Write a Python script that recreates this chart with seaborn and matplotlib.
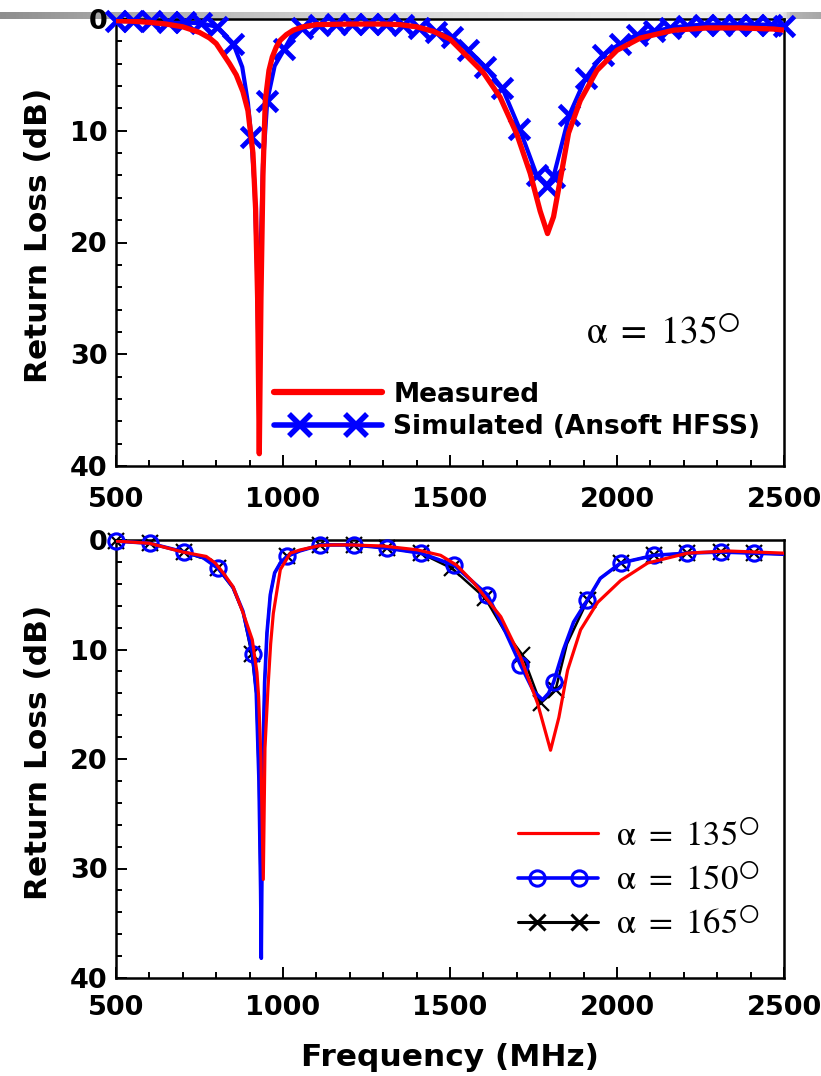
import numpy as np
import matplotlib
matplotlib.use('Agg')
import matplotlib.pyplot as plt
import seaborn as sns
from matplotlib.lines import Line2D
from matplotlib.legend_handler import HandlerLine2D, HandlerTuple
from matplotlib.ticker import MultipleLocator
from matplotlib.colors import LinearSegmentedColormap

# ---- data: top panel (alpha = 135 deg) ----
meas_f = [500, 550, 600, 650, 700, 750, 780, 800, 820, 840, 860, 880, 895, 910, 918, 924, 929,
          934, 940, 947, 958, 968, 980, 992, 1010, 1031, 1060, 1100, 1200, 1300, 1350, 1400,
          1450, 1500, 1550, 1600, 1650, 1700, 1740, 1770, 1792, 1810, 1830, 1855, 1890, 1940,
          2000, 2070, 2170, 2270, 2370, 2470, 2500]
meas_db = [0.15, 0.2, 0.3, 0.45, 0.7, 1.2, 1.7, 2.2, 3.1, 4.0, 5.0, 6.5, 8.2, 12, 17, 25, 38.9,
           25, 14, 7.3, 4.6, 3.4, 2.5, 1.9, 1.4, 1.0, 0.7, 0.5, 0.45, 0.45, 0.5, 0.7,
           1.1, 1.8, 3.3, 4.8, 7.0, 10.3, 13.8, 17.2, 19.2, 17.7, 14.4, 10.2, 7.3, 4.6,
           2.8, 1.7, 1.0, 0.8, 0.8, 0.9, 1.0]

# simulated: points carrying a marker
sim_f = [500, 552, 604, 656, 706, 755, 803, 851, 905, 953, 1004, 1058, 1108, 1158, 1208, 1258,
         1308, 1358, 1408, 1457, 1507, 1555, 1606, 1657, 1708, 1760, 1789, 1810, 1857, 1906,
         1958, 2010, 2060, 2110, 2160, 2210, 2260, 2310, 2360, 2410, 2460, 2500]
sim_db = [0.2, 0.2, 0.2, 0.25, 0.3, 0.4, 0.7, 2.2, 10.6, 7.3, 2.7, 0.8, 0.5, 0.45, 0.45, 0.45,
          0.45, 0.5, 0.8, 1.2, 1.6, 2.8, 4.3, 6.2, 9.8, 14.0, 14.9, 14.1, 8.6, 5.3,
          3.2, 2.2, 1.4, 1.1, 0.8, 0.6, 0.5, 0.5, 0.5, 0.5, 0.5, 0.6]
# simulated: extra sweep points without a marker
sim_extra_f = [878, 895, 915, 922, 927, 932, 940, 975, 1030]
sim_extra_db = [4.3, 7.5, 15, 22, 31, 22, 13, 4.2, 1.3]

# ---- data: bottom panel ----
a135_f = [500, 600, 700, 770, 797, 821, 851, 881, 908, 922, 927, 934, 941, 946, 955, 963, 971,
          992, 1022, 1052, 1112, 1151, 1200, 1301, 1402, 1472, 1520, 1571, 1652, 1711, 1762,
          1801, 1826, 1852, 1891, 1942, 2011, 2092, 2211, 2331, 2500]
a135_db = [0.1, 0.3, 1.1, 1.5, 2.1, 3.0, 4.3, 6.7, 9.1, 12.1, 14.3, 20, 31, 19, 13.5, 9.5, 6.7,
           2.7, 1.2, 0.9, 0.5, 0.45, 0.45, 0.55, 0.9, 1.4, 2.3, 3.9, 7.0, 10.7, 14.9,
           19.2, 16.2, 11.9, 8.2, 5.7, 3.7, 2.1, 1.2, 1.0, 1.2]

a150_f = [500, 601, 705, 760, 806, 850, 880, 909, 920, 928, 933, 935, 937, 940, 945, 952, 962,
          975, 992, 1012, 1050, 1112, 1212, 1312, 1412, 1512, 1612, 1660, 1711, 1750, 1777,
          1795, 1810, 1840, 1870, 1911, 1950, 2011, 2111, 2211, 2311, 2410, 2500]
a150_db = [0.1, 0.3, 1.1, 1.6, 2.6, 4.3, 6.5, 10.4, 14, 22, 32, 38.2, 30, 20, 13, 8.5, 5,
           3, 2.1, 1.5, 1.0, 0.45, 0.45, 0.75, 1.2, 2.3, 5.0, 8.0, 11.4, 13.8, 14.6,
           14.0, 13.0, 10, 7.5, 5.5, 3.5, 2.1, 1.4, 1.2, 1.1, 1.2, 1.3]
a150_mark_f = [500, 601, 705, 806, 909, 1012, 1112, 1212, 1312, 1412, 1512, 1612, 1711, 1810,
               1911, 2011, 2111, 2211, 2311, 2410]
a150_mark_db = [0.1, 0.3, 1.1, 2.6, 10.4, 1.5, 0.45, 0.45, 0.75, 1.2, 2.3, 5.0, 11.4, 13.0,
                5.5, 2.1, 1.4, 1.2, 1.1, 1.2]

a165_f = [500, 601, 705, 752, 785, 806, 850, 880, 906, 920, 928, 933, 935, 937, 940, 945, 952,
          962, 975, 992, 1012, 1050, 1112, 1212, 1312, 1412, 1506, 1605, 1661, 1717, 1771,
          1816, 1850, 1912, 1950, 2011, 2111, 2211, 2311, 2410, 2500]
a165_db = [0.1, 0.3, 1.1, 1.6, 1.8, 2.6, 4.4, 6.6, 10.4, 14, 22, 32, 37, 30, 20, 13, 8.5,
           5, 3, 2.1, 1.5, 1.0, 0.45, 0.45, 0.75, 1.2, 2.6, 5.3, 8.2, 10.5, 14.9,
           13.7, 9.5, 5.5, 3.5, 2.1, 1.4, 1.2, 1.1, 1.2, 1.3]
a165_mark_f = [500, 601, 705, 806, 906, 1012, 1112, 1212, 1312, 1412, 1506, 1605, 1717, 1771,
               1816, 1912, 2011, 2111, 2211, 2311, 2410]
a165_mark_db = [0.1, 0.3, 1.1, 2.6, 10.4, 1.5, 0.45, 0.45, 0.75, 1.2, 2.6, 5.3, 10.5, 14.9,
                13.7, 5.5, 2.1, 1.4, 1.2, 1.1, 1.2]

x_ticks = [500, 1000, 1500, 2000, 2500]
y_ticks = [0, 10, 20, 30, 40]
alpha_labels = [r'$\mathrm{\alpha}\ =\ 135^{\bigcirc}$', r'$\mathrm{\alpha}\ =\ 150^{\bigcirc}$',
                r'$\mathrm{\alpha}\ =\ 165^{\bigcirc}$']

sns.set_style('ticks')
plt.rcParams['font.family'] = ['DejaVu Sans']
plt.rcParams['mathtext.fontset'] = 'stix'
for key in ['text.color', 'axes.labelcolor', 'xtick.color', 'ytick.color', 'axes.edgecolor']:
    plt.rcParams[key] = 'black'

W, H = 821, 1076
fig = plt.figure(figsize=(W / 100, H / 100), dpi=100)

# grey header strip of the original slide
bar = fig.add_axes([0, 1 - 19 / H, 1, 7 / H], zorder=0)
bar_cmap = LinearSegmentedColormap.from_list(
    'bar', [(0.0, '#8e8e8e'), (0.12, '#a4a4a4'), (0.37, '#cdcdcd'), (0.55, '#dedede'),
            (0.85, '#ececec'), (0.955, '#e8e8e8'), (0.965, '#b4b4b4'), (1.0, '#a8a8a8')])
bar.imshow(np.linspace(0, 1, 512)[None, :], cmap=bar_cmap, aspect='auto', extent=[0, 1, 0, 1])
bar.axis('off')

ax1 = fig.add_axes([116 / W, 1 - 466 / H, 668 / W, 447 / H], zorder=1)
ax2 = fig.add_axes([116 / W, 1 - 978 / H, 668 / W, 438 / H], zorder=1)


def style(ax, xpad):
    ax.set_xlim(500, 2500)
    ax.set_ylim(40, 0)
    ax.set_xticks(x_ticks)
    ax.set_yticks(y_ticks)
    ax.xaxis.set_minor_locator(MultipleLocator(100))
    ax.yaxis.set_minor_locator(MultipleLocator(2))
    ax.tick_params(which='both', direction='in', width=1.4, top=False, right=False,
                   color='black', labelcolor='black')
    ax.tick_params(which='major', length=8)
    ax.tick_params(which='minor', length=4.5)
    ax.tick_params(axis='x', pad=xpad)
    ax.tick_params(axis='y', pad=6)
    for lab in ax.get_xticklabels() + ax.get_yticklabels():
        lab.set_fontweight('bold')
        lab.set_fontsize(19.5)
    for s in ax.spines.values():
        s.set_visible(True)
        s.set_linewidth(1.8)
        s.set_color('black')
    ax.patch.set_alpha(0)
    ax.set_xlabel('')
    ax.set_ylabel('Return Loss (dB)', fontsize=22.5, fontweight='bold', color='black')
    ax.yaxis.set_label_coords(-0.094, 0.515)


def marker_legend_handle(color, lw, pad, **mk):
    # full-length line plus two markers inset from the ends
    line = Line2D([], [], color=color, lw=lw)
    marks = Line2D([], [], ls='none', color=color, **mk)
    hmap = {line: HandlerLine2D(marker_pad=0, numpoints=2),
            marks: HandlerLine2D(marker_pad=pad, numpoints=2)}
    return (line, marks), hmap


# ---- top panel ----
sim_line = sorted(zip(sim_f + sim_extra_f, sim_db + sim_extra_db))
sns.lineplot(x=[p[0] for p in sim_line], y=[p[1] for p in sim_line], ax=ax1, color='blue',
             lw=3, sort=False, estimator=None, zorder=2)
ax1.plot(sim_f, sim_db, ls='none', marker='x', ms=14, mew=3.5, color='blue',
         clip_on=False, zorder=3)
sns.lineplot(x=meas_f, y=meas_db, ax=ax1, color='red', lw=3.8, sort=False, estimator=None,
             zorder=4)
style(ax1, 15)

h_meas = Line2D([], [], color='red', lw=4.5)
h_sim, hmap_sim = marker_legend_handle('blue', 4, 1.0, marker='x', ms=16, mew=4)
hmap_top = {tuple: HandlerTuple(ndivide=1, pad=0)}
hmap_top.update(hmap_sim)
ax1.legend([h_meas, h_sim], ['Measured', 'Simulated (Ansoft HFSS)'], handler_map=hmap_top,
           loc='center left', bbox_to_anchor=(274 / W, 1 - 411 / H),
           bbox_transform=fig.transFigure, frameon=False, handlelength=4.1,
           handletextpad=0.42, borderpad=0, borderaxespad=0, labelspacing=0.25,
           prop={'weight': 'bold', 'size': 19})
ax1.text(0.703, 0.2975, alpha_labels[0], transform=ax1.transAxes,
         va='center', ha='left', fontsize=27)

# ---- bottom panel ----
sns.lineplot(x=a165_f, y=a165_db, ax=ax2, color='black', lw=1.8, sort=False, estimator=None,
             zorder=2)
ax2.plot(a165_mark_f, a165_mark_db, ls='none', marker='x', ms=12, mew=1.6, color='black',
         clip_on=False, zorder=3)
sns.lineplot(x=a150_f, y=a150_db, ax=ax2, color='blue', lw=2.6, sort=False, estimator=None,
             zorder=4)
ax2.plot(a150_mark_f, a150_mark_db, ls='none', marker='o', ms=11, mew=2.2, mfc='none',
         color='blue', clip_on=False, zorder=5)
sns.lineplot(x=a135_f, y=a135_db, ax=ax2, color='red', lw=2.3, sort=False, estimator=None,
             zorder=6)
style(ax2, 12)
ax2.set_xlabel('Frequency (MHz)', fontsize=22.5, fontweight='bold', color='black')
ax2.xaxis.set_label_coords(0.5, -0.148)

h135 = Line2D([], [], color='red', lw=2.3)
h150, hmap150 = marker_legend_handle('blue', 2.6, 0.55, marker='o', ms=11, mew=2.2, mfc='none')
h165, hmap165 = marker_legend_handle('black', 2.2, 0.55, marker='x', ms=12, mew=2.2)
hmap_bot = {tuple: HandlerTuple(ndivide=1, pad=0)}
hmap_bot.update(hmap150)
hmap_bot.update(hmap165)
ax2.legend([h135, h150, h165], alpha_labels, handler_map=hmap_bot,
           loc='center left', bbox_to_anchor=(518 / W, 1 - 880 / H),
           bbox_transform=fig.transFigure, frameon=False, handlelength=2.3,
           handletextpad=0.52, borderpad=0, borderaxespad=0, labelspacing=0.3,
           prop={'size': 25})

fig.savefig('out.png', dpi=100)
